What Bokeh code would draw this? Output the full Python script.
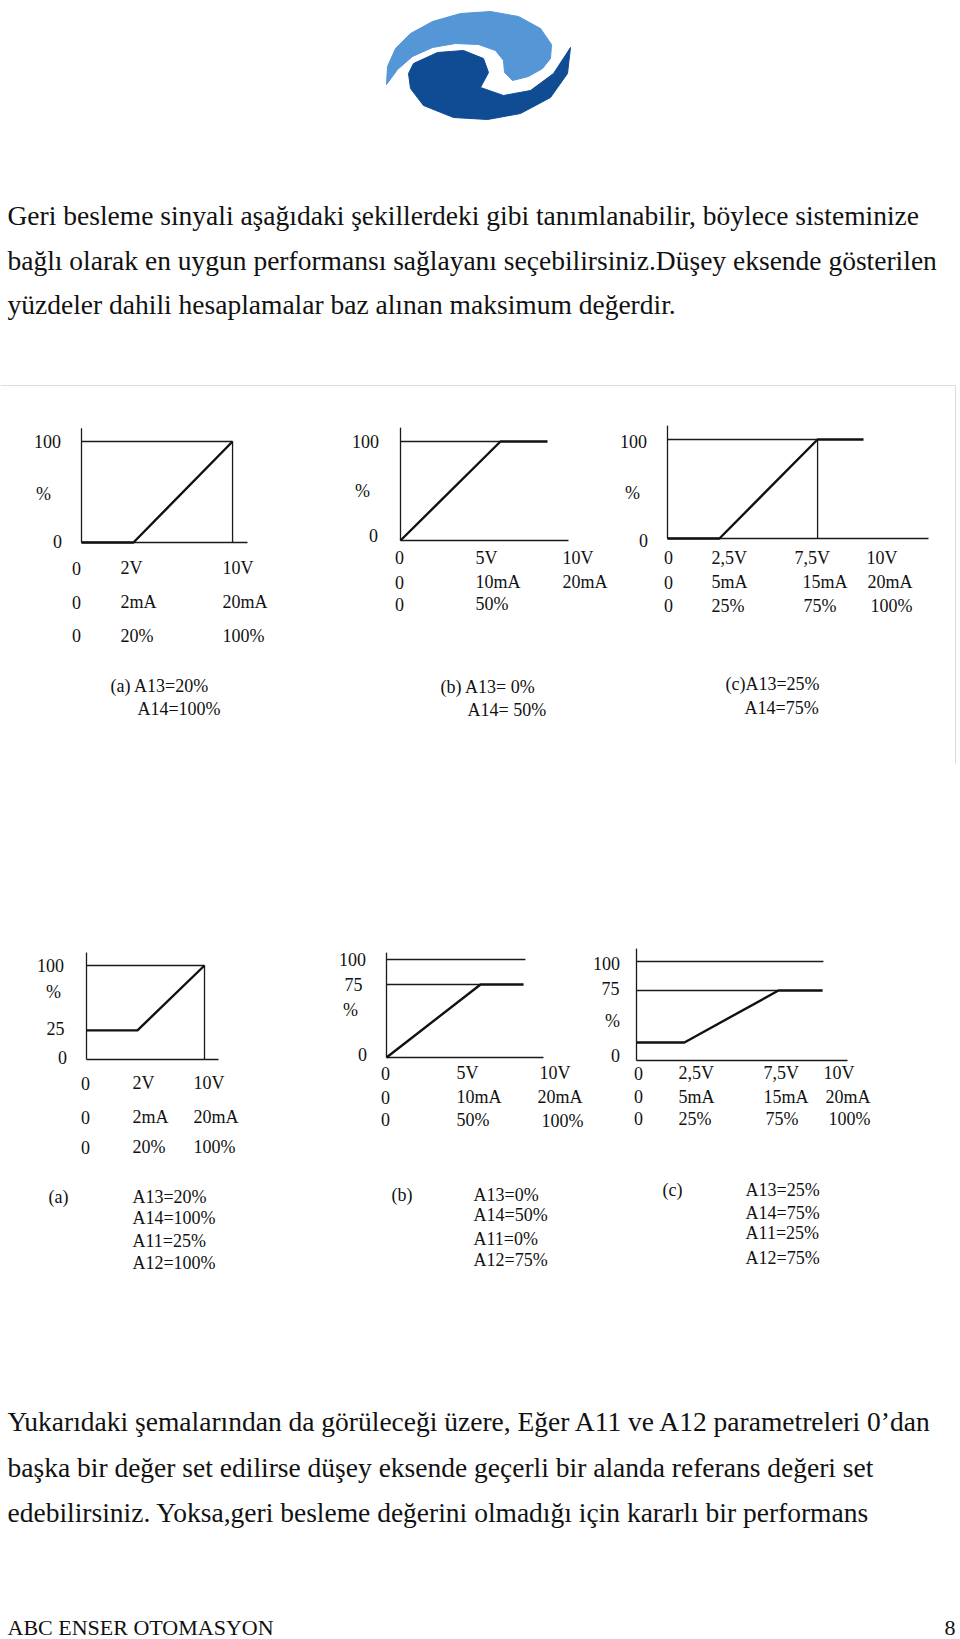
from bokeh.plotting import figure
from bokeh.models import Range1d, ColumnDataSource
from bokeh.core.properties import value
from bokeh.embed import file_html
from bokeh.resources import INLINE

# ------------------------------------------------------------------
# Page text
# ------------------------------------------------------------------
INTRO_LINES = [
    "Geri besleme sinyali aşağıdaki şekillerdeki gibi tanımlanabilir, böylece sisteminize",
    "bağlı olarak en uygun performansı sağlayanı seçebilirsiniz.Düşey eksende gösterilen",
    "yüzdeler dahili hesaplamalar baz alınan maksimum değerdir.",
]
OUTRO_LINES = [
    "Yukarıdaki şemalarından da görüleceği üzere, Eğer A11 ve A12 parametreleri 0’dan",
    "başka bir değer set edilirse düşey eksende geçerli bir alanda referans değeri set",
    "edebilirsiniz. Yoksa,geri besleme değerini olmadığı için kararlı bir performans",
]
FOOTER_LEFT = "ABC ENSER OTOMASYON"
FOOTER_RIGHT = "8"

# ------------------------------------------------------------------
# Panel data (x: position along drawn input axis, 0..100 ; y: output %, as drawn)
# ------------------------------------------------------------------
# (a) top : A13=20%, A14=100%
TA_CURVE_X = [0, 31.3, 91.0]
TA_CURVE_Y = [0, 0, 100]
TA_THIN_X = [[0, 91.0], [91.0, 91.0]]
TA_THIN_Y = [[100, 100], [0, 100]]
TA_YLAB = ["100", "%", "0"]
TA_YLAB_X = [-20.5, -22.9, -14.5]
TA_YLAB_Y = [100, 48.5, 1]
TA_XLAB = ["0", "2V", "10V", "0", "2mA", "20mA", "0", "20%", "100%"]
TA_XLAB_X = [-5.7, 23.5, 84.9, -5.7, 23.5, 84.9, -5.7, 23.5, 84.9]
TA_XLAB_Y = [-25.7, -25.7, -25.7, -59.4, -59.4, -59.4, -92.1, -92.1, -92.1]
TA_CAP = ["(a) A13=20%", "A14=100%"]
TA_CAP_X = [17.5, 33.7]
TA_CAP_Y = [-141.6, -164.4]

# (b) top : A13=0%, A14=50%
TB_CURVE_X = [0, 59.5, 87.5]
TB_CURVE_Y = [0, 100, 100]
TB_THIN_X = [[0, 59.5]]
TB_THIN_Y = [[100, 100]]
TB_YLAB = ["100", "%", "0"]
TB_YLAB_X = [-20.8, -22.6, -16.1]
TB_YLAB_Y = [100, 50.5, 5]
TB_XLAB = ["0", "5V", "10V", "0", "10mA", "20mA", "0", "50%"]
TB_XLAB_X = [-3.3, 44.6, 96.4, -3.3, 44.6, 96.4, -3.3, 44.6]
TB_XLAB_Y = [-17.2, -17.2, -17.2, -42.4, -42.4, -42.4, -64.6, -64.6]
TB_CAP = ["(b) A13= 0%", "A14= 50%"]
TB_CAP_X = [23.8, 39.9]
TB_CAP_Y = [-147.5, -171.7]

# (c) top : A13=25%, A14=75%
TC_CURVE_X = [0, 19.9, 57.5, 75.1]
TC_CURVE_Y = [0, 0, 100, 100]
TC_THIN_X = [[0, 57.5], [57.5, 57.5]]
TC_THIN_Y = [[100, 100], [0, 100]]
TC_YLAB = ["100", "%", "0"]
TC_YLAB_X = [-13.0, -13.4, -9.2]
TC_YLAB_Y = [98, 45.5, -2]
TC_XLAB = ["0", "2,5V", "7,5V", "10V", "0", "5mA", "15mA", "20mA", "0", "25%", "75%", "100%"]
TC_XLAB_X = [-1.3, 16.9, 48.7, 76.2, -1.3, 16.9, 51.7, 76.6, -1.3, 16.9, 52.1, 77.8]
TC_XLAB_Y = [-19.2] * 4 + [-44.4] * 4 + [-67.7] * 4
TC_CAP = ["(c)A13=25%", "A14=75%"]
TC_CAP_X = [22.2, 29.5]
TC_CAP_Y = [-146.5, -171.7]

# (a) bottom : A13=20%, A14=100%, A11=25%, A12=100%
BA_CURVE_X = [0, 38.6, 89.4]
BA_CURVE_Y = [31, 31, 100]
BA_THIN_X = [[0, 89.4], [89.4, 89.4]]
BA_THIN_Y = [[100, 100], [0, 100]]
BA_YLAB = ["100", "%", "25", "0"]
BA_YLAB_X = [-27.3, -25.0, -23.5, -18.2]
BA_YLAB_Y = [100, 71.3, 33, 2]
BA_XLAB = ["0", "2V", "10V", "0", "2mA", "20mA", "0", "20%", "100%"]
BA_XLAB_X = [-4.2, 34.8, 81.1] * 3
BA_XLAB_Y = [-25.5] * 3 + [-61.7] * 3 + [-93.6] * 3
BA_CAP = ["(a)", "A13=20%", "A14=100%", "A11=25%", "A12=100%"]
BA_CAP_X = [-28.8, 34.8, 34.8, 34.8, 34.8]
BA_CAP_Y = [-146.8, -146.8, -169.1, -192.6, -216.0]

# (b) bottom : A13=0%, A14=50%, A11=0%, A12=75%
BB_CURVE_X = [0, 59.9, 87.3]
BB_CURVE_Y = [0, 74.5, 74.5]
BB_THIN_X = [[0, 88.5], [0, 59.9]]
BB_THIN_Y = [[100, 100], [74.5, 74.5]]
BB_YLAB = ["100", "75", "%", "0"]
BB_YLAB_X = [-21.7, -21.0, -22.9, -15.3]
BB_YLAB_Y = [100, 74.5, 48, 3]
BB_XLAB = ["0", "5V", "10V", "0", "10mA", "20mA", "0", "50%", "100%"]
BB_XLAB_X = [-3.5, 44.6, 97.5, -3.5, 44.6, 96.2, -3.5, 44.6, 98.7]
BB_XLAB_Y = [-16.3] * 3 + [-40.8] * 3 + [-63.3, -63.3, -65.3]
BB_CAP = ["(b)", "A13=0%", "A14=50%", "A11=0%", "A12=75%"]
BB_CAP_X = [3.2, 55.4, 55.4, 55.4, 55.4]
BB_CAP_Y = [-140.8, -140.8, -161.2, -184.7, -207.1]

# (c) bottom : A13=25%, A14=75%, A11=25%, A12=75%
BC_CURVE_X = [0, 22.7, 67.3, 88.2]
BC_CURVE_Y = [18.2, 18.2, 70.7, 70.7]
BC_THIN_X = [[0, 88.6], [0, 67.3]]
BC_THIN_Y = [[100, 100], [70.7, 70.7]]
BC_YLAB = ["100", "75", "%", "0"]
BC_YLAB_X = [-14.2, -12.3, -11.4, -10.0]
BC_YLAB_Y = [98, 72.7, 40.4, 5]
BC_XLAB = ["0", "2,5V", "7,5V", "10V", "0", "5mA", "15mA", "20mA", "0", "25%", "75%", "100%"]
BC_XLAB_X = [-1.2, 19.9, 60.2, 88.6, -1.2, 19.9, 60.2, 89.6, -1.2, 19.9, 61.1, 91.0]
BC_XLAB_Y = [-13.1] * 4 + [-36.4] * 4 + [-58.6] * 4
BC_CAP = ["(c)", "A13=25%", "A14=75%", "A11=25%", "A12=75%"]
BC_CAP_X = [12.3, 51.7, 51.7, 51.7, 51.7]
BC_CAP_Y = [-131.3, -131.3, -154.5, -174.7, -199.0]

# ------------------------------------------------------------------
# Layout (page pixels): origin x, origin y, x-axis length, height of 100 %, y-axis top
# ------------------------------------------------------------------
W, H = 960, 1639
FRAMES = {
    "ta": (81, 542, 166, 101, 113),
    "tb": (400, 540, 168, 99, 114),
    "tc": (667, 538, 261, 99, 114),
    "ba": (86, 1059, 132, 94, 113.8),
    "bb": (386, 1057, 157, 98, 107),
    "bc": (636, 1060, 211, 99, 113),
}
PANELS = {
    "ta": (TA_CURVE_X, TA_CURVE_Y, TA_THIN_X, TA_THIN_Y, TA_YLAB, TA_YLAB_X, TA_YLAB_Y,
           TA_XLAB, TA_XLAB_X, TA_XLAB_Y, TA_CAP, TA_CAP_X, TA_CAP_Y),
    "tb": (TB_CURVE_X, TB_CURVE_Y, TB_THIN_X, TB_THIN_Y, TB_YLAB, TB_YLAB_X, TB_YLAB_Y,
           TB_XLAB, TB_XLAB_X, TB_XLAB_Y, TB_CAP, TB_CAP_X, TB_CAP_Y),
    "tc": (TC_CURVE_X, TC_CURVE_Y, TC_THIN_X, TC_THIN_Y, TC_YLAB, TC_YLAB_X, TC_YLAB_Y,
           TC_XLAB, TC_XLAB_X, TC_XLAB_Y, TC_CAP, TC_CAP_X, TC_CAP_Y),
    "ba": (BA_CURVE_X, BA_CURVE_Y, BA_THIN_X, BA_THIN_Y, BA_YLAB, BA_YLAB_X, BA_YLAB_Y,
           BA_XLAB, BA_XLAB_X, BA_XLAB_Y, BA_CAP, BA_CAP_X, BA_CAP_Y),
    "bb": (BB_CURVE_X, BB_CURVE_Y, BB_THIN_X, BB_THIN_Y, BB_YLAB, BB_YLAB_X, BB_YLAB_Y,
           BB_XLAB, BB_XLAB_X, BB_XLAB_Y, BB_CAP, BB_CAP_X, BB_CAP_Y),
    "bc": (BC_CURVE_X, BC_CURVE_Y, BC_THIN_X, BC_THIN_Y, BC_YLAB, BC_YLAB_X, BC_YLAB_Y,
           BC_XLAB, BC_XLAB_X, BC_XLAB_Y, BC_CAP, BC_CAP_X, BC_CAP_Y),
}

p = figure(width=W, height=H, x_range=Range1d(0, W), y_range=Range1d(H, 0),
           output_backend="svg", toolbar_location=None, min_border=0,
           x_axis_location=None, y_axis_location=None)
p.grid.visible = False
p.outline_line_color = None
p.background_fill_color = "white"
p.border_fill_color = "white"

# extra ranges: one coordinate system per panel
xr, yr = {}, {}
for name, (ox, oy, xlen, h, ytop) in FRAMES.items():
    bx = xlen / 100.0
    by = h / 100.0
    xr[name] = Range1d(-ox / bx, (W - ox) / bx)
    yr[name] = Range1d((oy - H) / by, oy / by)
p.extra_x_ranges = xr
p.extra_y_ranges = yr

SERIF = "Liberation Serif"
INK = "#111111"


def draw_text(xs, ys, texts, rn=None, align="left", size="18px", baseline="middle"):
    src = ColumnDataSource(dict(x=xs, y=ys, t=texts))
    kw = dict(x_range_name=rn, y_range_name=rn) if rn else {}
    p.text("x", "y", text="t", source=src, text_align=align, text_baseline=baseline,
           text_font=value(SERIF), text_font_size=size, text_color=INK, **kw)


# ---- logo (decorative)
LOGO_LIGHT = [(386, 84), (387, 66), (395, 48), (410, 33), (432, 21), (460, 13), (490, 11),
              (518, 16), (540, 28), (551, 44), (550, 58), (542, 68), (528, 76), (512, 80),
              (504, 72), (503, 60), (495, 50), (478, 44), (455, 43), (432, 47), (412, 56),
              (397, 69)]
LOGO_DARK = [(413, 63), (437, 52), (463, 50), (483, 58), (488, 72), (480, 87), (503, 95),
             (530, 90), (553, 73), (570, 47), (567, 73), (550, 97), (520, 113), (487, 119),
             (453, 117), (423, 105), (410, 88), (408, 73)]
p.patch([a for a, b in LOGO_LIGHT], [b for a, b in LOGO_LIGHT], fill_color="#5496d6",
        line_color="#5496d6", line_width=1)
p.patch([a for a, b in LOGO_DARK], [b for a, b in LOGO_DARK], fill_color="#0f4c94",
        line_color="#0f4c94", line_width=1)

# ---- faint frame of the upper figure
p.multi_line([[0, 955], [955, 955]], [[385, 385], [385, 763]], line_color="#dcdcdc", line_width=1)

# ---- body text
draw_text([7, 7, 7], [215, 259.5, 304], INTRO_LINES, size="27.5px", baseline="alphabetic")
draw_text([7, 7, 7], [1421, 1467, 1512], OUTRO_LINES, size="27.5px", baseline="alphabetic")
draw_text([7], [1627], [FOOTER_LEFT], size="22px", baseline="alphabetic")
draw_text([955], [1627], [FOOTER_RIGHT], size="22px", baseline="alphabetic", align="right")

# ---- panels
for name, (cx, cy, tx, ty, yl, ylx, yly, xl, xlx, xly, cap, capx, capy) in PANELS.items():
    ytop = FRAMES[name][4]
    # axes
    p.multi_line([[0, 0], [0, 100]], [[0, ytop], [0, 0]], x_range_name=name, y_range_name=name,
                 line_color="#1a1a1a", line_width=1.3)
    # thin reference lines
    p.multi_line(tx, ty, x_range_name=name, y_range_name=name, line_color="#1a1a1a", line_width=1.3)
    # characteristic curve
    p.line(cx, cy, x_range_name=name, y_range_name=name, line_color="#111111", line_width=2.4,
           line_join="round")
    draw_text(ylx, yly, yl, rn=name, align="center")
    draw_text(xlx, xly, xl, rn=name)
    draw_text(capx, capy, cap, rn=name)

open("out.html", "w").write(file_html(p, INLINE))
